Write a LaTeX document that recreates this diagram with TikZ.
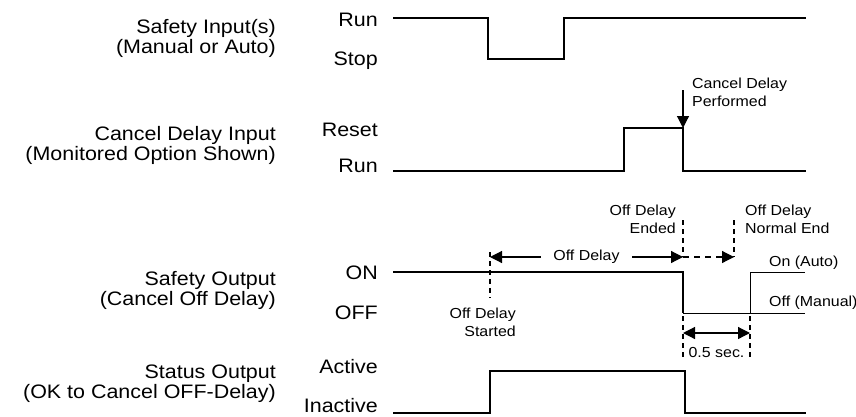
\documentclass[tikz,border=0pt]{standalone}
\usepackage{fontspec}
\setmainfont{Liberation Sans}[FakeStretch=1.1]
\usetikzlibrary{arrows.meta}
\tikzset{
  baseline = (current bounding box.center),
}

\begin{document}
\begin{tikzpicture}[
      x=1pt, y=-1pt,
      wave/.style={line width=1.4pt},
      thinwave/.style={line width=0.9pt},
      dashmark/.style={line width=1.3pt,dash pattern=on 5pt off 4pt},
      timing/.style={line width=1.2pt,>={Triangle[length=12pt,width=12pt]}},
      signal/.style={anchor=east,align=right,inner sep=0pt,font=\fontsize{19.5}{20}\selectfont},
      level/.style={anchor=base east,inner sep=0pt,font=\fontsize{19.5}{20}\selectfont},
      note/.style={inner sep=0pt,font=\fontsize{14.5}{18}\selectfont}
      ]
      \useasboundingbox (0,0) rectangle (856,416);
      % signal names
      \node[signal] (safin) at (276,38) {Safety Input(s)\\(Manual or Auto)};
      \node[signal] (canin) at (276,145) {Cancel Delay Input\\(Monitored Option Shown)};
      \node[signal] (safout) at (276,290) {Safety Output\\(Cancel Off Delay)};
      \node[signal] (statout) at (276,384) {Status Output\\(OK to Cancel OFF-Delay)};
      % levels
      \node[level] (run1) at (378,26) {Run};
      \node[level] (stop) at (378,65) {Stop};
      \node[level] (reset) at (378,136) {Reset};
      \node[level] (run2) at (378,172) {Run};
      \node[level] (on) at (378,279) {ON};
      \node[level] (off) at (378,319) {OFF};
      \node[level] (act) at (378,373) {Active};
      \node[level] (inact) at (378,412) {Inactive};
      % waveforms
      \draw[wave] (393,18) -| (488,59) -| (564,18) -- (806,18);
      \draw[wave] (393,171) -| (624,128) -| (683,171) -- (806,171);
      \draw[wave] (393,272) -| (683,313);
      \draw[thinwave] (683,313) -- (805,313);
      \draw[thinwave] (750,313) |- (805,272);
      \draw[wave] (393,413) -| (490,371) -| (685,413) -- (806,413);
      % cancel delay performed
      \coordinate (cdtop) at (683,90);
      \coordinate (cdhit) at (683,128);
      \draw[timing,->] (cdtop) -- (cdhit);
      \node[note,anchor=west,align=left] (cdp) at (692,92) {Cancel Delay\\Performed};
      % off delay
      \coordinate (odstart) at (490,257);
      \coordinate (odend) at (683,257);
      \coordinate (odnorm) at (734,257);
      \draw[dashmark] (490,252) -- (490,298);
      \draw[dashmark] (683,220) -- (odend);
      \draw[dashmark] (734,220) -- (odnorm);
      \draw[timing,<->] (odstart) -- node[note,fill=white,inner xsep=12pt,inner ysep=2pt] (odl) {Off Delay} (odend);
      \draw[timing,->,dash pattern=on 6pt off 5pt] (odend) -- (odnorm);
      \node[note,anchor=east,align=right] (ods) at (516,322) {Off Delay\\Started};
      \node[note,anchor=east,align=right] (ode) at (676,219) {Off Delay\\Ended};
      \node[note,anchor=west,align=left] (odn) at (745,219) {Off Delay\\Normal End};
      \node[note,anchor=base west] (auto) at (769,266) {On (Auto)};
      \node[note,anchor=base west] (man) at (769,306) {Off (Manual)};
      % 0.5 sec
      \coordinate (hs1) at (683,333);
      \coordinate (hs2) at (750,333);
      \draw[dashmark] (683,316) -- (683,358);
      \draw[dashmark] (750,316) -- (750,358);
      \draw[timing,<->] (hs1) -- (hs2);
      \node[note,anchor=base] (hsl) at (716.5,357) {0.5 sec.};
    \end{tikzpicture}
\end{document}
